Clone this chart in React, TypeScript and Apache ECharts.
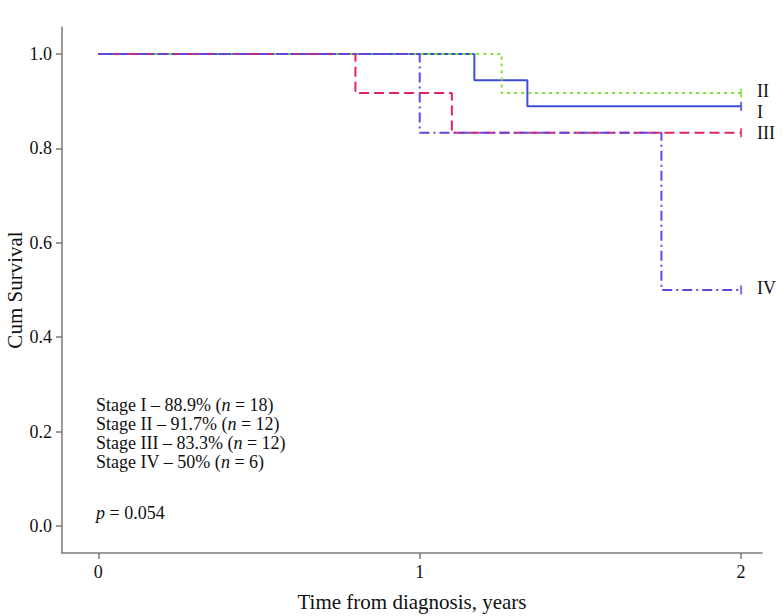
import React, { useEffect, useRef } from "react";
import * as echarts from "echarts";

const stageNames = ["I", "II", "III", "IV"];
const dropTimesI = [1.17, 1.335];
const survI = [0.944, 0.889];
const dropTimesII = [1.255];
const survII = [0.917];
const dropTimesIII = [0.8, 1.1];
const survIII = [0.917, 0.833];
const dropTimesIV = [1.0, 1.752];
const survIV = [0.833, 0.5];
const followUpEnd = 2;
const xTicks = [0, 1, 2];
const yTicks = [0, 0.2, 0.4, 0.6, 0.8, 1.0];
const legendLines = [
  "Stage I – 88.9% ({i|n} = 18)",
  "Stage II – 91.7% ({i|n} = 12)",
  "Stage III – 83.3% ({i|n} = 12)",
  "Stage IV – 50% ({i|n} = 6)",
];
const pText = "{i|p} = 0.054";

const colors = ["#3a4fd8", "#80e03a", "#e0245e", "#6a44e0"];
const lineTypes: any[] = ["solid", [3, 4], [10, 5], [10, 4, 2, 4]];
const labelOffsets = [[0, 6], [0, -2], [0, 0], [0, -2]];

function kmPoints(times: number[], surv: number[]) {
  const pts: number[][] = [[0, 1]];
  let cur = 1;
  times.forEach((t, i) => {
    pts.push([t, cur]);
    cur = surv[i];
    pts.push([t, cur]);
  });
  pts.push([followUpEnd, cur]);
  return pts;
}

const FONT = "'Liberation Serif', 'DejaVu Serif', serif";

export default function App() {
  const ref = useRef<HTMLDivElement>(null);
  useEffect(() => {
    const chart = echarts.init(ref.current!, null, { renderer: "svg" });
    const curves = [
      kmPoints(dropTimesI, survI),
      kmPoints(dropTimesII, survII),
      kmPoints(dropTimesIII, survIII),
      kmPoints(dropTimesIV, survIV),
    ];
    const series: any[] = [];
    [0, 1, 2, 3].forEach((k) => {
      const pts = curves[k];
      series.push({
        type: "line",
        name: "Stage " + stageNames[k],
        data: pts,
        showSymbol: false,
        symbol: "none",
        lineStyle: { color: colors[k], width: 2, type: lineTypes[k] },
        endLabel: {
          show: true,
          formatter: stageNames[k],
          color: "#111",
          fontFamily: FONT,
          fontSize: 18,
          distance: 16,
          offset: labelOffsets[k],
        },
        z: 2 + k,
      });
      series.push({
        type: "scatter",
        data: [pts[pts.length - 1]],
        symbol: "rect",
        symbolSize: [2, 9],
        itemStyle: { color: colors[k] },
        z: 2 + k,
      });
    });
    const rich = { i: { fontStyle: "italic", fontFamily: FONT, fontSize: 18, fill: "#111" } };
    const legendGraphics: any[] = legendLines.map((t, i) => ({
      type: "text",
      left: 96,
      top: 396 + i * 19,
      style: { text: t, fontFamily: FONT, fontSize: 18, fill: "#111", rich },
    }));
    legendGraphics.push({
      type: "text",
      left: 96,
      top: 504,
      style: { text: pText, fontFamily: FONT, fontSize: 18, fill: "#111", rich },
    });
    chart.setOption({
      animation: false,
      backgroundColor: "#fff",
      grid: {
        left: 62,
        top: 27,
        right: 20,
        bottom: 63,
        containLabel: false,
        outerBoundsMode: "none",
      },
      xAxis: {
        type: "value",
        min: -0.113,
        max: 2.065,
        name: "Time from diagnosis, years",
        nameLocation: "middle",
        nameGap: 38,
        nameTextStyle: { fontFamily: FONT, fontSize: 21, color: "#111" },
        axisLine: { show: true, onZero: false, lineStyle: { color: "#7a7a7a", width: 1.5 } },
        axisTick: { show: true, length: 6, customValues: xTicks, lineStyle: { color: "#7a7a7a", width: 1.5 } },
        axisLabel: { customValues: xTicks, fontFamily: FONT, fontSize: 18, color: "#111", margin: 10 },
        splitLine: { show: false },
      },
      yAxis: {
        type: "value",
        min: -0.057,
        max: 1.057,
        name: "Cum Survival",
        nameLocation: "middle",
        nameGap: 37,
        nameMoveOverlap: false,
        nameTextStyle: { fontFamily: FONT, fontSize: 21, color: "#111" },
        axisLine: { show: true, onZero: false, lineStyle: { color: "#7a7a7a", width: 1.5 } },
        axisTick: { show: true, length: 6, customValues: yTicks, lineStyle: { color: "#7a7a7a", width: 1.5 } },
        axisLabel: {
          customValues: yTicks,
          formatter: (v: number) => v.toFixed(1),
          fontFamily: FONT,
          fontSize: 18,
          color: "#111",
          margin: 10,
        },
        splitLine: { show: false },
      },
      series,
      graphic: legendGraphics,
    });
    return () => chart.dispose();
  }, []);
  return (
    <div
      ref={ref}
      style={{ position: "fixed", left: 0, top: 0, width: 782, height: 616 }}
    />
  );
}
